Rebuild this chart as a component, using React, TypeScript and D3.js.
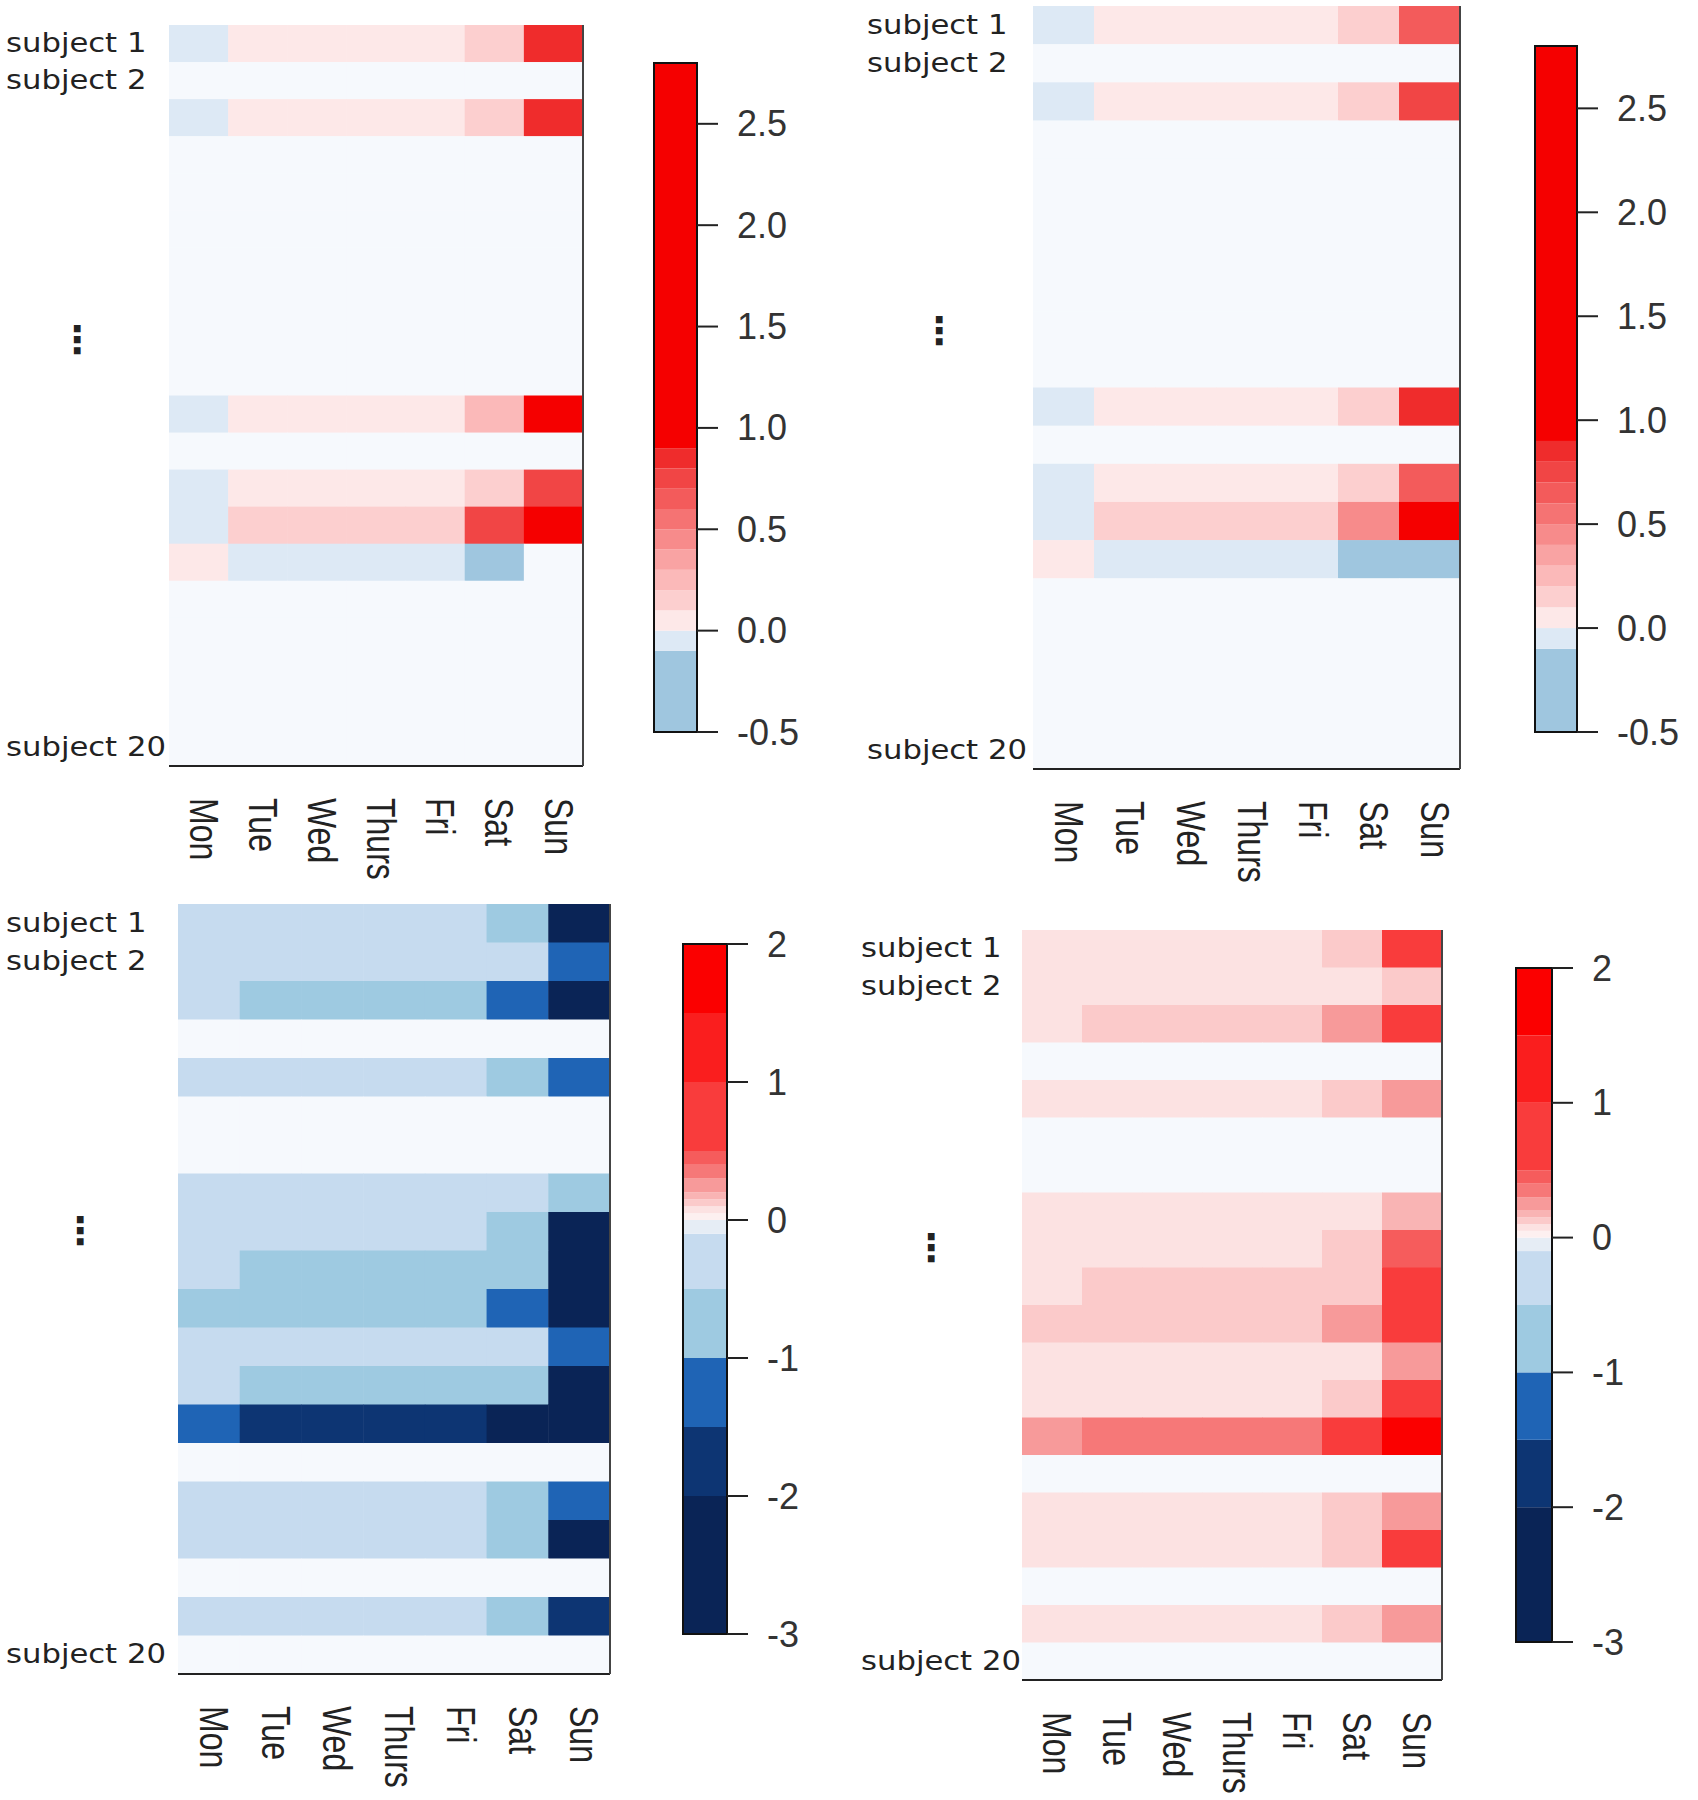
import React from 'react';
import * as d3 from 'd3';

const W = 1698;
const H = 1800;

const days = ['Mon', 'Tue', 'Wed', 'Thurs', 'Fri', 'Sat', 'Sun'];
const subjectLabels = [
  { row: 0, text: 'subject 1' },
  { row: 1, text: 'subject 2' },
  { row: 19, text: 'subject 20' },
];

const _ = null;

// top left panel, 20 subjects x 7 days (null = no value)
const valuesA = [
  [-0.05, 0.05, 0.05, 0.05, 0.05, 0.15, 0.8],
  [_, _, _, _, _, _, _],
  [-0.05, 0.05, 0.05, 0.05, 0.05, 0.15, 0.85],
  [_, _, _, _, _, _, _],
  [_, _, _, _, _, _, _],
  [_, _, _, _, _, _, _],
  [_, _, _, _, _, _, _],
  [_, _, _, _, _, _, _],
  [_, _, _, _, _, _, _],
  [_, _, _, _, _, _, _],
  [-0.05, 0.05, 0.05, 0.05, 0.05, 0.25, 1.2],
  [_, _, _, _, _, _, _],
  [-0.05, 0.05, 0.05, 0.05, 0.05, 0.15, 0.75],
  [-0.05, 0.15, 0.15, 0.15, 0.15, 0.75, 1.3],
  [0.05, -0.05, -0.05, -0.05, -0.05, -0.3, _],
  [_, _, _, _, _, _, _],
  [_, _, _, _, _, _, _],
  [_, _, _, _, _, _, _],
  [_, _, _, _, _, _, _],
  [_, _, _, _, _, _, _],
];

// top right panel
const valuesB = [
  [-0.05, 0.05, 0.05, 0.05, 0.05, 0.15, 0.6],
  [_, _, _, _, _, _, _],
  [-0.05, 0.05, 0.05, 0.05, 0.05, 0.15, 0.7],
  [_, _, _, _, _, _, _],
  [_, _, _, _, _, _, _],
  [_, _, _, _, _, _, _],
  [_, _, _, _, _, _, _],
  [_, _, _, _, _, _, _],
  [_, _, _, _, _, _, _],
  [_, _, _, _, _, _, _],
  [-0.05, 0.05, 0.05, 0.05, 0.05, 0.15, 0.85],
  [_, _, _, _, _, _, _],
  [-0.05, 0.05, 0.05, 0.05, 0.05, 0.15, 0.65],
  [-0.05, 0.15, 0.15, 0.15, 0.15, 0.45, 1.1],
  [0.05, -0.05, -0.05, -0.05, -0.05, -0.3, -0.3],
  [_, _, _, _, _, _, _],
  [_, _, _, _, _, _, _],
  [_, _, _, _, _, _, _],
  [_, _, _, _, _, _, _],
  [_, _, _, _, _, _, _],
];

// bottom left panel
const valuesC = [
  [-0.3, -0.3, -0.3, -0.3, -0.3, -0.7, -2.5],
  [-0.3, -0.3, -0.3, -0.3, -0.3, -0.3, -1.2],
  [-0.3, -0.7, -0.7, -0.7, -0.7, -1.2, -2.5],
  [_, _, _, _, _, _, _],
  [-0.3, -0.3, -0.3, -0.3, -0.3, -0.7, -1.2],
  [_, _, _, _, _, _, _],
  [_, _, _, _, _, _, _],
  [-0.3, -0.3, -0.3, -0.3, -0.3, -0.3, -0.7],
  [-0.3, -0.3, -0.3, -0.3, -0.3, -0.7, -2.5],
  [-0.3, -0.7, -0.7, -0.7, -0.7, -0.7, -2.5],
  [-0.7, -0.7, -0.7, -0.7, -0.7, -1.2, -2.5],
  [-0.3, -0.3, -0.3, -0.3, -0.3, -0.3, -1.2],
  [-0.3, -0.7, -0.7, -0.7, -0.7, -0.7, -2.5],
  [-1.2, -1.8, -1.8, -1.8, -1.8, -2.5, -2.5],
  [_, _, _, _, _, _, _],
  [-0.3, -0.3, -0.3, -0.3, -0.3, -0.7, -1.2],
  [-0.3, -0.3, -0.3, -0.3, -0.3, -0.7, -2.5],
  [_, _, _, _, _, _, _],
  [-0.3, -0.3, -0.3, -0.3, -0.3, -0.7, -1.8],
  [_, _, _, _, _, _, _],
];

// bottom right panel
const valuesD = [
  [0.07, 0.07, 0.07, 0.07, 0.07, 0.12, 0.6],
  [0.07, 0.07, 0.07, 0.07, 0.07, 0.07, 0.12],
  [0.07, 0.12, 0.12, 0.12, 0.12, 0.25, 0.7],
  [_, _, _, _, _, _, _],
  [0.07, 0.07, 0.07, 0.07, 0.07, 0.12, 0.25],
  [_, _, _, _, _, _, _],
  [_, _, _, _, _, _, _],
  [0.07, 0.07, 0.07, 0.07, 0.07, 0.07, 0.17],
  [0.07, 0.07, 0.07, 0.07, 0.07, 0.12, 0.45],
  [0.07, 0.12, 0.12, 0.12, 0.12, 0.12, 0.6],
  [0.12, 0.12, 0.12, 0.12, 0.12, 0.25, 0.7],
  [0.07, 0.07, 0.07, 0.07, 0.07, 0.07, 0.25],
  [0.07, 0.07, 0.07, 0.07, 0.07, 0.12, 0.6],
  [0.25, 0.35, 0.35, 0.35, 0.35, 0.7, 1.6],
  [_, _, _, _, _, _, _],
  [0.07, 0.07, 0.07, 0.07, 0.07, 0.12, 0.25],
  [0.07, 0.07, 0.07, 0.07, 0.07, 0.12, 0.6],
  [_, _, _, _, _, _, _],
  [0.07, 0.07, 0.07, 0.07, 0.07, 0.12, 0.25],
  [_, _, _, _, _, _, _],
];

// colour keys
const topBreaks = [-0.1, 0, 0.1, 0.2, 0.3, 0.4, 0.5, 0.6, 0.7, 0.8, 0.9];
const topColors = ['#9fc6df', '#dde9f5', '#fde8e8', '#fccfcf', '#fbb9b9', '#f9a3a3', '#f78b8b', '#f57373', '#f35b5b', '#f14545', '#ef2c2c', '#f50000'];
const topDomain = [-0.5, 2.8];
const topTicks = [-0.5, 0, 0.5, 1, 1.5, 2, 2.5];

const botBreaks = [-2, -1.5, -1, -0.5, -0.1, 0, 0.05, 0.1, 0.15, 0.2, 0.3, 0.4, 0.5, 1, 1.5];
const botColors = ['#0a2456', '#0d3573', '#1f64b5', '#9ecae1', '#c6dbef', '#e6edf5', '#fdf0f0', '#fce2e2', '#fbcaca', '#f9b4b4', '#f79a9a', '#f67878', '#f65c5c', '#f93c3c', '#fa1e1e', '#fb0000'];
const botDomain = [-3, 2];
const botTicks = [-3, -2, -1, 0, 1, 2];

const NA_COLOR = '#f6f9fd';

const panels = [
  { values: valuesA, heat: [169, 583, 25, 766], labelX: 6, dots: [77, 340], bar: [654, 697, 63, 732], breaks: topBreaks, colors: topColors, domain: topDomain, ticks: topTicks, fmt: '.1f' },
  { values: valuesB, heat: [1033, 1460, 6, 769], labelX: 867, dots: [939, 331], bar: [1535, 1577, 46, 732], breaks: topBreaks, colors: topColors, domain: topDomain, ticks: topTicks, fmt: '.1f' },
  { values: valuesC, heat: [178, 610, 904, 1674], labelX: 6, dots: [80, 1231], bar: [683, 727, 944, 1634], breaks: botBreaks, colors: botColors, domain: botDomain, ticks: botTicks, fmt: 'd' },
  { values: valuesD, heat: [1022, 1442, 930, 1680], labelX: 861, dots: [931, 1248], bar: [1516, 1552, 968, 1642], breaks: botBreaks, colors: botColors, domain: botDomain, ticks: botTicks, fmt: 'd' },
];

function Panel({ p }) {
  const [hx0, hx1, hy0, hy1] = p.heat;
  const x = d3.scaleBand().domain(days).range([hx0, hx1]);
  const y = d3.scaleBand().domain(d3.range(20)).range([hy0, hy1]);
  const color = d3.scaleThreshold().domain(p.breaks).range(p.colors);

  const [bx0, bx1, by0, by1] = p.bar;
  const barY = d3.scaleLinear().domain(p.domain).range([by1, by0]);
  const fmt = d3.format(p.fmt);
  const bins = p.colors.map((c, i) => {
    const lo = i === 0 ? p.domain[0] : Math.max(p.breaks[i - 1], p.domain[0]);
    const hi = i === p.breaks.length ? p.domain[1] : Math.min(p.breaks[i], p.domain[1]);
    return { c, lo, hi };
  });

  return (
    <g>
      {p.values.map((row, r) =>
        row.map((v, c) => (
          <rect
            key={`${r}-${c}`}
            x={x(days[c])}
            y={y(r)}
            width={x.bandwidth() + 0.5}
            height={y.bandwidth() + 0.5}
            fill={v === null ? NA_COLOR : color(v)}
          />
        ))
      )}
      <line x1={hx0} x2={hx1} y1={hy1} y2={hy1} stroke="#222" strokeWidth={2} />
      <line x1={hx1} x2={hx1} y1={hy0} y2={hy1} stroke="#444" strokeWidth={2} />

      {subjectLabels.map(s => (
        <text
          key={s.text}
          transform={`translate(${p.labelX},${y(s.row) + y.bandwidth() / 2}) scale(1.18,1)`}
          dominantBaseline="central"
          fontFamily="DejaVu Sans"
          fontSize={26}
          fill="#222"
        >
          {s.text}
        </text>
      ))}
      <text x={p.dots[0]} y={p.dots[1]} textAnchor="middle" dominantBaseline="central" fontFamily="DejaVu Sans" fontWeight="bold" fontSize={38} fill="#222">⋮</text>

      {days.map(d => (
        <text
          key={d}
          transform={`translate(${x(d) + x.bandwidth() / 2 + 5},${hy1 + 32}) scale(1.25,1) rotate(90)`}
          dominantBaseline="central"
          fontFamily="Liberation Sans, Arial"
          fontSize={32}
          fill="#222"
        >
          {d}
        </text>
      ))}

      {bins.filter(b => b.hi > b.lo).map((b, i) => (
        <rect key={i} x={bx0} width={bx1 - bx0} y={barY(b.hi)} height={barY(b.lo) - barY(b.hi)} fill={b.c} />
      ))}
      <rect x={bx0} y={by0} width={bx1 - bx0} height={by1 - by0} fill="none" stroke="#111" strokeWidth={2} />
      {p.ticks.map(t => (
        <g key={t}>
          <line x1={bx1} x2={bx1 + 21} y1={barY(t)} y2={barY(t)} stroke="#222" strokeWidth={2} />
          <text x={bx1 + 40} y={barY(t)} dominantBaseline="central" fontFamily="Liberation Sans, Arial" fontSize={36} fill="#333">
            {fmt(t).replace('\u2212', '-')}
          </text>
        </g>
      ))}
    </g>
  );
}

export default function App() {
  return (
    <svg width={W} height={H} style={{ position: 'absolute', left: 0, top: 0, background: '#fff' }}>
      <rect width={W} height={H} fill="#fff" />
      {panels.map((p, i) => (
        <Panel key={i} p={p} />
      ))}
    </svg>
  );
}
